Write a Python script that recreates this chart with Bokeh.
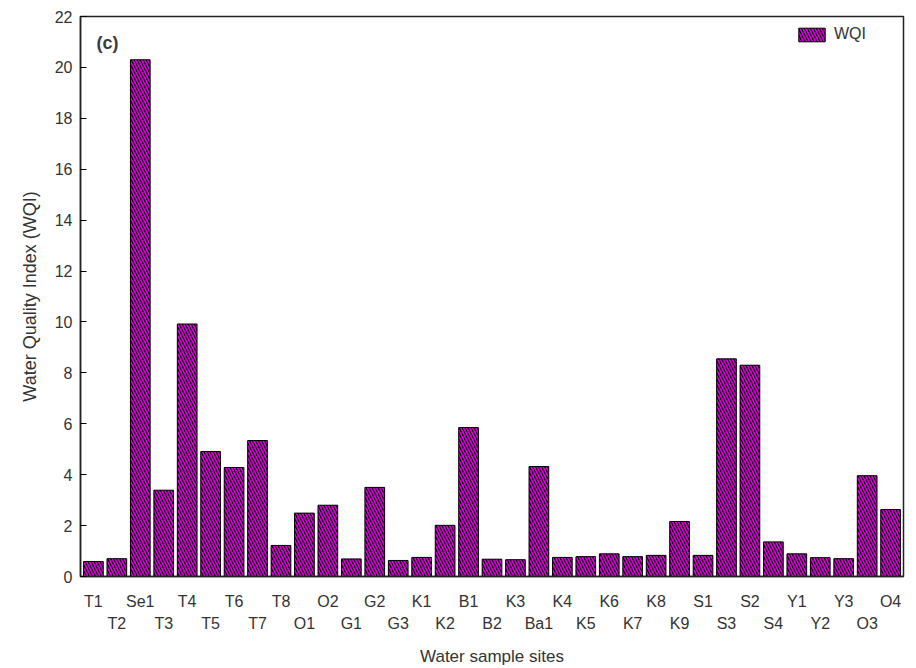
from bokeh.plotting import figure
from bokeh.models import (ColumnDataSource, LinearAxis, FixedTicker, Range1d,
                          Legend, LegendItem, Label)
from bokeh.embed import file_html
from bokeh.resources import INLINE

sites = ["T1", "T2", "Se1", "T3", "T4", "T5", "T6", "T7", "T8", "O1", "O2",
         "G1", "G2", "G3", "K1", "K2", "B1", "B2", "K3", "Ba1", "K4", "K5",
         "K6", "K7", "K8", "K9", "S1", "S3", "S2", "S4", "Y1", "Y2", "Y3",
         "O3", "O4"]
wqi = [0.59, 0.70, 20.3, 3.39, 9.92, 4.91, 4.28, 5.34, 1.22, 2.49, 2.80,
       0.69, 3.50, 0.63, 0.75, 2.01, 5.85, 0.68, 0.66, 4.32, 0.75, 0.78,
       0.89, 0.78, 0.83, 2.16, 0.83, 8.55, 8.30, 1.36, 0.89, 0.74, 0.70,
       3.96, 2.63]
y_ticks = [0, 2, 4, 6, 8, 10, 12, 14, 16, 18, 20, 22]

FONT = "Liberation Sans"
TXT = "#333333"

pos = list(range(len(sites)))
src = ColumnDataSource(dict(x=pos, y=wqi, site=sites))

p = figure(width=916, height=668, output_backend="svg", toolbar_location=None,
           x_range=Range1d(-0.55, len(sites) - 0.45), y_range=Range1d(0, 22),
           x_axis_location=None, y_axis_location=None,
           min_border_left=80, min_border_right=13, min_border_top=16,
           min_border_bottom=86)
p.grid.visible = False
p.outline_line_color = "#222222"
p.outline_line_width = 1.5
p.background_fill_color = "white"
p.border_fill_color = "white"

bars = p.vbar(x="x", top="y", width=0.84, source=src,
              fill_color="#dd00dd", line_color="black", line_width=1,
              hatch_pattern="\\", hatch_color="black", hatch_scale=6,
              hatch_weight=1.1)

# y axis
yax = LinearAxis(ticker=FixedTicker(ticks=y_ticks),
                 axis_label="Water Quality Index (WQI)")
yax.major_tick_in = 6
yax.major_tick_out = 0
yax.minor_tick_line_color = None
yax.axis_line_color = "#222222"
yax.axis_line_width = 1.5
yax.major_label_text_font = FONT
yax.major_label_text_font_size = "16px"
yax.major_label_text_color = TXT
yax.major_label_standoff = 8
yax.axis_label_text_font = FONT
yax.axis_label_text_font_size = "18px"
yax.axis_label_text_font_style = "normal"
yax.axis_label_text_color = TXT
yax.axis_label_standoff = 12
p.add_layout(yax, "left")

# x axes: staggered labels
even = [i for i in pos if i % 2 == 0]
odd = [i for i in pos if i % 2 == 1]
ax1 = LinearAxis(ticker=FixedTicker(ticks=even),
                 major_label_overrides={i: sites[i] for i in even})
ax2 = LinearAxis(ticker=FixedTicker(ticks=odd),
                 major_label_overrides={i: sites[i] for i in odd},
                 axis_label="Water sample sites")
for ax in (ax1, ax2):
    ax.major_tick_line_color = None
    ax.minor_tick_line_color = None
    ax.major_label_text_font = FONT
    ax.major_label_text_font_size = "16px"
    ax.major_label_text_color = TXT
    ax.axis_label_text_font = FONT
    ax.axis_label_text_font_size = "17px"
    ax.axis_label_text_font_style = "normal"
    ax.axis_label_text_color = TXT
ax1.axis_line_color = "#222222"
ax1.axis_line_width = 1.5
ax1.major_label_standoff = 10
ax2.axis_line_color = None
ax2.major_label_standoff = -4
ax2.axis_label_standoff = 12
p.add_layout(ax1, "below")
p.add_layout(ax2, "below")

legend = Legend(items=[LegendItem(label="WQI", renderers=[bars])],
                location=(715, 533), orientation="vertical")
legend.border_line_color = None
legend.background_fill_alpha = 0
legend.padding = 0
legend.margin = 0
legend.glyph_width = 33
legend.glyph_height = 17
legend.label_standoff = 6
legend.label_text_font = FONT
legend.label_text_font_size = "16px"
legend.label_text_color = TXT
p.add_layout(legend)

p.add_layout(Label(x=16, y=524, x_units="screen", y_units="screen", text="(c)",
                   text_font=FONT, text_font_size="18px",
                   text_font_style="bold", text_color="#3a3a3a"))

open("out.html", "w").write(file_html(p, INLINE))
